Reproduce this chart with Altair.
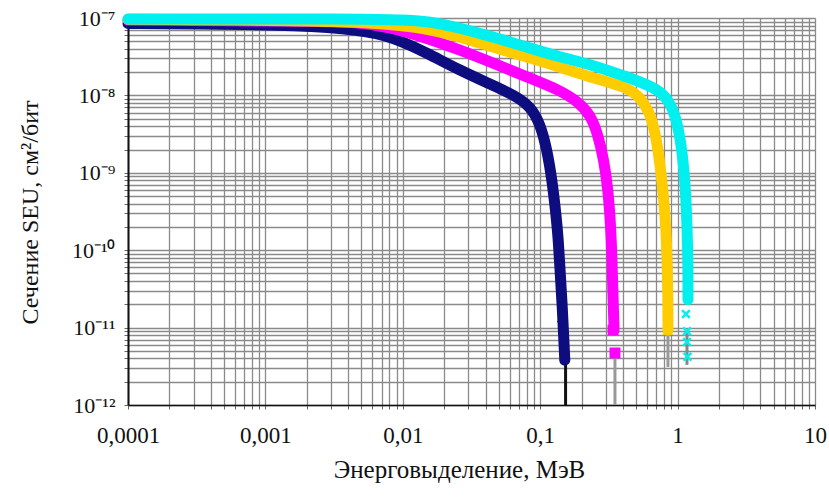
import json
import altair as alt
import pandas as pd

# ---- data ----
series_names = ["s1", "s2", "s3", "s4"]
series_colors = ["#0d0d80", "#ff00ff", "#ffcc00", "#00f0f0"]

navy_x = [1e-4, 3.34e-4, 1.79e-3, 4.89e-3, 8.49e-3, 0.0150, 0.0261, 0.0453, 0.0650, 0.0850,
          0.100, 0.112, 0.122, 0.130, 0.135, 0.139, 0.144, 0.151]
navy_y = [8.5e-8, 8.4e-8, 8.1e-8, 7.0e-8, 5.7e-8, 3.53e-8, 2.1e-8, 1.35e-8, 1.0e-8, 7.2e-9,
          4.3e-9, 2.0e-9, 8.0e-10, 3.0e-10, 1.5e-10, 6.0e-11, 2.3e-11, 3.8e-12]

mag_x = [1e-4, 1.79e-3, 4.89e-3, 8.49e-3, 0.0150, 0.0261, 0.0453, 0.0802, 0.139, 0.190,
         0.232, 0.262, 0.290, 0.312, 0.325, 0.333, 0.339, 0.345]
mag_y = [9.4e-8, 9.1e-8, 8.9e-8, 7.4e-8, 5.5e-8, 3.86e-8, 2.62e-8, 1.73e-8, 1.17e-8, 8.2e-9,
         5.6e-9, 3.2e-9, 1.5e-9, 6.0e-10, 2.2e-10, 8.0e-11, 2.3e-11, 9.3e-12]

gold_x = [1e-4, 4.89e-3, 0.0150, 0.0261, 0.0453, 0.0802, 0.139, 0.242, 0.429, 0.532,
          0.62, 0.69, 0.745, 0.790, 0.822, 0.840, 0.851, 0.851]
gold_y = [9.6e-8, 9.3e-8, 7.4e-8, 5.7e-8, 4.2e-8, 3.13e-8, 2.33e-8, 1.68e-8, 1.28e-8, 9.5e-9,
          6.3e-9, 3.3e-9, 1.3e-9, 5.0e-10, 2.0e-10, 7.0e-11, 2.3e-11, 9.3e-12]

cyan_x = [1e-4, 4.89e-3, 0.0150, 0.0261, 0.0453, 0.0802, 0.139, 0.242, 0.429, 0.745,
          0.90, 1.00, 1.08, 1.14, 1.17, 1.19, 1.19]
cyan_y = [9.7e-8, 9.8e-8, 9.4e-8, 7.4e-8, 5.7e-8, 4.2e-8, 3.13e-8, 2.47e-8, 1.73e-8, 1.2e-8,
          7.6e-9, 4.3e-9, 1.9e-9, 6.5e-10, 2.2e-10, 7.0e-11, 2.3e-11]

# tail markers
mark_series = ["s1", "s1", "s2", "s2", "s3", "s3", "s3"]
mark_x = [0.145, 0.151, 0.339, 0.350, 0.845, 0.851, 0.848]
mark_y = [1.2e-11, 3.8e-12, 9.3e-12, 4.7e-12, 2.2e-11, 1.4e-11, 9.3e-12]
mark_shape = ["diamond", "diamond", "square", "square", "triangle-up", "triangle-up", "triangle-up"]

cross_x = [1.15, 1.17, 1.17, 1.18]
cross_y = [1.5e-11, 9.0e-12, 6.5e-12, 4.2e-12]

# error-bar tails under the curves
tail_x = [0.153, 0.350, 0.851, 1.17]
tail_top = [3.8e-12, 4.7e-12, 9.3e-12, 9.0e-12]
tail_bot = [1.0e-12, 1.0e-12, 3.1e-12, 3.3e-12]
tail_color = ["#111111", "#999999", "#999999", "#888888"]

x_labels = ["0,0001", "0,001", "0,01", "0,1", "1", "10"]
y_labels = ["10\u207b\u00b9\u00b2", "10\u207b\u00b9\u00b9", "10\u207b\u00b9\u2070",
            "10\u207b\u2079", "10\u207b\u2078", "10\u207b\u2077"]

x_title = "Энерговыделение, МэВ"
y_title = "Сечение SEU, см²/бит"

# ---- tables ----
rows = []
for name, xs, ys in [("s1", navy_x, navy_y), ("s2", mag_x, mag_y),
                     ("s3", gold_x, gold_y), ("s4", cyan_x, cyan_y)]:
    for i, (a, b) in enumerate(zip(xs, ys)):
        rows.append({"series": name, "order": i, "x": a, "y": b})
lines_df = pd.DataFrame(rows)
marks_df = pd.DataFrame({"series": mark_series, "x": mark_x, "y": mark_y, "shape": mark_shape})
cross_df = pd.DataFrame({"x": cross_x, "y": cross_y})
tail_df = pd.DataFrame({"x": tail_x, "y": tail_top, "y2": tail_bot, "c": tail_color})

x_ticks = [m * 10.0 ** e for e in range(-4, 1) for m in range(1, 10)] + [10.0]
y_ticks = [m * 10.0 ** e for e in range(-12, -7) for m in range(1, 10)] + [1e-7]

is_major = "abs(log(datum.value)/LN10 - round(log(datum.value)/LN10)) < 0.001"
x_expr = f"{is_major} ? {json.dumps(x_labels, ensure_ascii=False)}[round(log(datum.value)/LN10)+4] : ''"
y_expr = f"{is_major} ? {json.dumps(y_labels, ensure_ascii=False)}[round(log(datum.value)/LN10)+12] : ''"

FONT = "Liberation Serif"

x_scale = alt.Scale(type="log", domain=[1e-4, 10], nice=False)
y_scale = alt.Scale(type="log", domain=[1e-12, 1e-7], nice=False)

x_axis = alt.Axis(values=x_ticks, labelExpr=x_expr, grid=True, gridColor="#8a8a8a", gridWidth=1.3,
                  domainColor="#111111", domainWidth=1.5, tickColor="#666666", tickSize=4,
                  labelFont=FONT, labelFontSize=23, labelColor="#111111", labelPadding=15,
                  labelOverlap=False, labelFlush=False, labelBound=False,
                  title=x_title, titleFont=FONT, titleFontSize=25, titleFontWeight="normal",
                  titleColor="#111111", titleX=331, titleY=64, titleBaseline="middle", titleAlign="center")
y_axis = alt.Axis(values=y_ticks, labelExpr=y_expr, grid=True, gridColor="#8a8a8a", gridWidth=1.3,
                  domainColor="#111111", domainWidth=2, tickColor="#666666", tickSize=4,
                  labelFont=FONT, labelFontSize=22, labelColor="#111111", labelPadding=9,
                  labelOverlap=False, labelFlush=False, labelBound=False,
                  title=y_title, titleFont=FONT, titleFontSize=24, titleFontWeight="normal",
                  titleColor="#111111", titleX=-98, titleY=194, titleBaseline="middle", titleAlign="center")

color = alt.Color("series:N", scale=alt.Scale(domain=series_names, range=series_colors), legend=None)

tails = alt.Chart(tail_df).mark_rule(strokeWidth=3).encode(
    x=alt.X("x:Q", scale=x_scale, axis=x_axis),
    y=alt.Y("y:Q", scale=y_scale, axis=y_axis),
    y2="y2:Q",
    color=alt.Color("c:N", scale=None),
)

lines = alt.Chart(lines_df).mark_line(strokeWidth=11, strokeCap="round", strokeJoin="round",
                                      interpolate="basis").encode(
    x=alt.X("x:Q", scale=x_scale),
    y=alt.Y("y:Q", scale=y_scale),
    color=color,
    detail="series:N",
    order="order:Q",
)

points = alt.Chart(marks_df).mark_point(filled=True, opacity=1, size=120).encode(
    x=alt.X("x:Q", scale=x_scale),
    y=alt.Y("y:Q", scale=y_scale),
    color=color,
    shape=alt.Shape("shape:N", scale=None),
)

crosses = alt.Chart(cross_df).mark_point(shape="M-1,-1L1,1M-1,1L1,-1", filled=False, size=60,
                                         strokeWidth=2.5, color="#00f0f0", opacity=1).encode(
    x=alt.X("x:Q", scale=x_scale),
    y=alt.Y("y:Q", scale=y_scale),
)

chart = alt.layer(tails, lines, points, crosses).properties(
    width=687, height=387,
    padding={"left": 128, "top": 18, "right": 14, "bottom": 93},
    autosize=alt.AutoSizeParams(type="none"),
).configure_view(stroke="#333333", strokeWidth=1.5).configure(background="white")

chart.save("out.html", embed_options={"renderer": "svg", "actions": False})
